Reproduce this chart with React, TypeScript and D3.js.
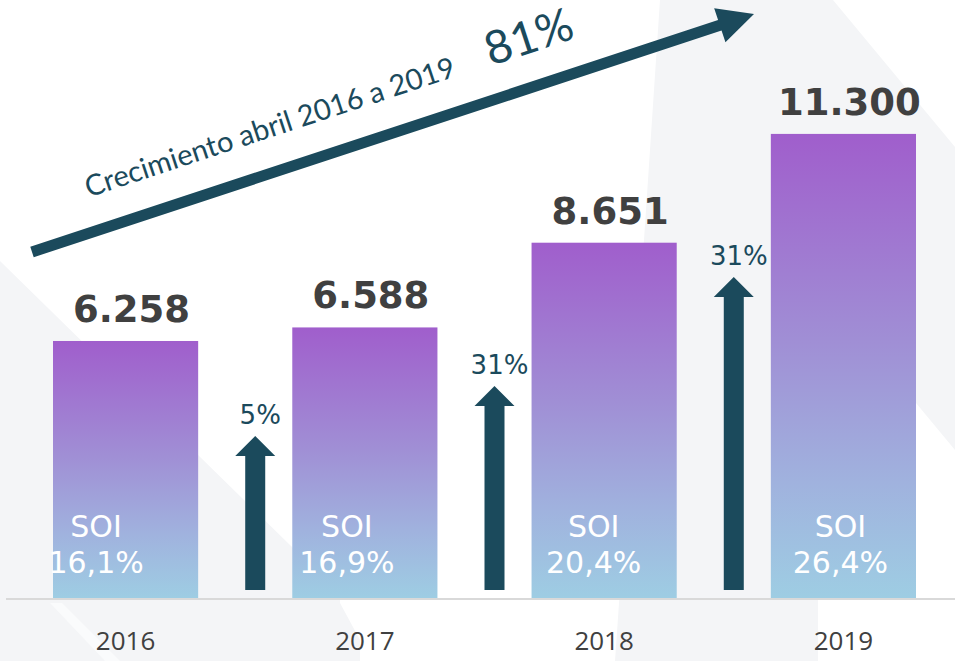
import React from 'react';
import * as d3 from 'd3';

// ---- data ----
const years = ['2016', '2017', '2018', '2019'];
const totals = [6258, 6588, 8651, 11300];
const soiShare = [16.1, 16.9, 20.4, 26.4];
const growth = [5, 31, 31];
const totalGrowth = 81;
const headline = 'Crecimiento abril 2016 a 2019';
const soiLabel = 'SOI';

// ---- layout (not data) ----
const W = 955;
const H = 661;
const baseY = 598;
const soiDx = [-29.5, -18, -10.5, -3];
const arrowTipY = [436, 386, 277];
const teal = '#1b4a5c';
const grey = '#f4f5f7';

const locale = d3.formatLocale({ decimal: ',', thousands: '.', grouping: [3], currency: ['', ''] });
const fmtInt = locale.format(',d');
const fmtPct = locale.format('.1f');

export default function App() {
  const x = d3.scaleBand<string>().domain(years).range([53, 916]).paddingInner(94 / 239).paddingOuter(0);
  const y = d3.scaleLinear().domain([0, 12000]).range([baseY, baseY - 12000 * 0.04107]);
  const bw = x.bandwidth();

  // big arrow geometry
  const ax0 = 32, ay0 = 252, ax1 = 754, ay1 = 14;
  const L = Math.hypot(ax1 - ax0, ay1 - ay0);
  const ang = (Math.atan2(ay1 - ay0, ax1 - ax0) * 180) / Math.PI;
  const headLen = 36, headHalf = 18, shaftHalf = 5.5;

  const line = d3.line();

  return (
    <div style={{ position: 'absolute', left: 0, top: 0 }}>
      <svg width={W} height={H} style={{ display: 'block', background: '#ffffff' }}>
        <defs>
          <linearGradient id="barGrad" x1="0" y1="0" x2="0" y2="1">
            <stop offset="0" stopColor="#a05ecc" />
            <stop offset="0.45" stopColor="#a08fd5" />
            <stop offset="0.75" stopColor="#a0b2de" />
            <stop offset="1" stopColor="#9ecde3" />
          </linearGradient>
        </defs>

        {/* watermark background shapes */}
        <path d={line([[0, 261], [340, 594], [340, 603], [360, 640], [360, 661], [0, 661]])! + 'Z'} fill={grey} />
        <path d={line([[50, 603], [62, 603], [120, 661], [105, 661]])! + 'Z'} fill="#fafbfc" />
        <path
          d={line([[660, 0], [833, 0], [955, 147], [955, 450], [916, 403], [916, 600], [818, 600], [818, 661], [615, 661], [640, 300]])! + 'Z'}
          fill={grey}
        />

        {/* axis line */}
        <line x1={6} x2={W} y1={baseY + 1} y2={baseY + 1} stroke="#d9d9d9" strokeWidth={2} />

        {/* bars */}
        {years.map((yr, i) => (
          <rect key={yr} x={x(yr)} y={y(totals[i])} width={bw} height={baseY - y(totals[i])} fill="url(#barGrad)" />
        ))}

        {/* value labels */}
        {years.map((yr, i) => (
          <text
            key={'v' + yr}
            x={x(yr)! + bw / 2 + 6}
            y={y(totals[i]) - 19}
            textAnchor="middle"
            fontFamily="DejaVu Sans"
            fontWeight="bold"
            fontSize={37}
            fill="#404040"
          >
            {fmtInt(totals[i])}
          </text>
        ))}

        {/* SOI labels */}
        {years.map((yr, i) => {
          const cx = x(yr)! + bw / 2 + soiDx[i];
          return (
            <g key={'s' + yr} fontFamily="DejaVu Sans" fontSize={30} fill="#ffffff" textAnchor="middle">
              <text x={cx} y={537}>{soiLabel}</text>
              <text x={cx} y={573}>{fmtPct(soiShare[i]) + '%'}</text>
            </g>
          );
        })}

        {/* year labels */}
        {years.map((yr) => (
          <text
            key={'y' + yr}
            x={x(yr)! + bw / 2}
            y={650}
            textAnchor="middle"
            fontFamily="Open Sans"
            fontSize={26}
            fill="#404040"
          >
            {yr}
          </text>
        ))}

        {/* growth arrows */}
        {growth.map((g, i) => {
          const gapL = x(years[i])! + bw;
          const gapR = x(years[i + 1])!;
          const cx = (gapL + gapR) / 2 + 10;
          const tip = arrowTipY[i];
          const bottom = 590;
          const pts: [number, number][] = [
            [cx - 10, bottom],
            [cx - 10, tip + 20],
            [cx - 20, tip + 20],
            [cx, tip],
            [cx + 20, tip + 20],
            [cx + 10, tip + 20],
            [cx + 10, bottom],
          ];
          return (
            <g key={'g' + i}>
              <path d={line(pts)! + 'Z'} fill={teal} />
              <text x={cx + 5} y={tip - 12} textAnchor="middle" fontFamily="DejaVu Sans" fontSize={26} fill={teal}>
                {g + '%'}
              </text>
            </g>
          );
        })}

        {/* big growth arrow */}
        <g transform={`translate(${ax0},${ay0}) rotate(${ang})`}>
          <path
            d={
              line([
                [0, -shaftHalf],
                [L - headLen, -shaftHalf],
                [L - headLen, -headHalf],
                [L, 0],
                [L - headLen, headHalf],
                [L - headLen, shaftHalf],
                [0, shaftHalf],
              ])! + 'Z'
            }
            fill={teal}
          />
          <text x={71} y={-34} fontFamily="Lato" fontSize={29} fill={teal}>
            {headline}
          </text>
          <text x={494} y={-33} fontFamily="Lato" fontSize={46} fill={teal}>
            {totalGrowth + '%'}
          </text>
        </g>
      </svg>
    </div>
  );
}
